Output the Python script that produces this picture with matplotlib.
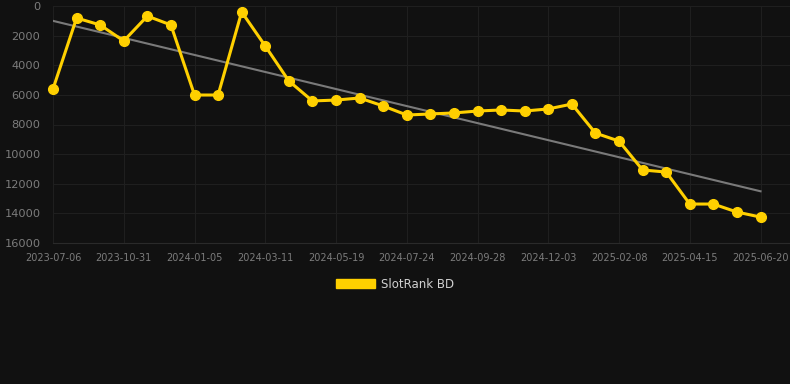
import numpy as np
import matplotlib
matplotlib.use('Agg')
import matplotlib.pyplot as plt
from matplotlib.patches import Patch

# valores de ranking (eje invertido)
rank = [5600, 810, 1280, 2360, 680, 1280, 6010, 6010, 400, 2700,
        5060, 6410, 6350, 6210, 6750, 7360, 7290, 7220, 7090, 7020,
        7090, 6950, 6620, 8580, 9120, 11070, 11210, 13370, 13370, 13910,
        14250]
tick_labels = ['2023-07-06', '2023-10-31', '2024-01-05', '2024-03-11',
               '2024-05-19', '2024-07-24', '2024-09-28', '2024-12-03',
               '2025-02-08', '2025-04-15', '2025-06-20']
y_ticks = [0, 2000, 4000, 6000, 8000, 10000, 12000, 14000, 16000]
serie = 'SlotRank BD'

bg = '#111111'
amarillo = '#FFD000'

x = np.arange(len(rank))
# linea de tendencia (ajuste lineal)
m, b = np.polyfit(x, rank, 1)

fig = plt.figure(figsize=(7.9, 3.84), dpi=100, facecolor=bg)
ax = fig.add_axes([53/790, 1 - 243/384, 1 - 53/790, (243 - 6)/384])
ax.set_facecolor(bg)

ax.plot(x, m*x + b, color='#7a7a7a', lw=1.5, zorder=2)
ax.plot(x, rank, color=amarillo, lw=2.2, marker='o', markersize=7,
        clip_on=False, zorder=3)

ax.set_ylim(16000, 0)
ax.set_xlim(0, 31.25)
ax.set_yticks(y_ticks)
ax.set_yticklabels([str(v) for v in y_ticks])
ax.set_xticks(x[::3])
ax.set_xticklabels(tick_labels)
ax.tick_params(axis='y', length=0, pad=9, labelsize=8.2, labelcolor='#7c7c7c')
ax.tick_params(axis='x', length=0, pad=7, labelsize=7, labelcolor='#7c7c7c')
ax.grid(True, color='#1f1f1f', lw=0.8)
ax.set_axisbelow(True)
for s in ax.spines.values():
    s.set_visible(False)
ax.spines['bottom'].set_visible(True)
ax.spines['bottom'].set_color('#2a2a2a')
ax.spines['bottom'].set_linewidth(0.8)

fig.legend(handles=[Patch(facecolor=amarillo, edgecolor=amarillo, label=serie)],
           loc='center', bbox_to_anchor=(0.5, 1 - 284/384), frameon=False,
           handlelength=3.3, handleheight=0.9, fontsize=8.5, labelcolor='#d0d0d0',
           handletextpad=0.5)

fig.savefig('out.png', dpi=100, facecolor=bg)
